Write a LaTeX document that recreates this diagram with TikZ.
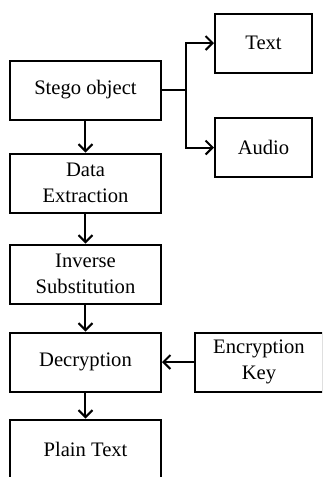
\documentclass[tikz,border=0pt]{standalone}
\usepackage{fontspec}
\setmainfont{Liberation Serif}
\usetikzlibrary{positioning}
\usetikzlibrary{arrows.meta}

\begin{document}
\begin{tikzpicture}[
            block/.style={
                draw,
                line width=1pt,
                align=center,
                font=\fontsize{10.3}{13}\selectfont,
                minimum width=75.5pt,
                minimum height=29.5pt
            },
            side/.style={
                block,
                minimum width=48.5pt
            },
            flecha/.style={-{Straight Barb[length=3.5pt,width=7pt]}, line width=1pt}
        ]

        \path[use as bounding box] (-42.75pt,45pt) rectangle (118.25pt,-193.5pt);
        \clip (-42.75pt,45pt) rectangle (118.25pt,-193.5pt);

        \node[block] (stego) at (0,0) {Stego object};

        \node[side, right = 26pt of stego, yshift=23.5pt] (texto) {Text};
        \node[side, right = 26pt of stego, yshift=-28.75pt] (audio) {Audio};

        \node[block, below = 16pt of stego] (extraccion)
            {Data\\
            Extraction};

        \node[block, below = 15pt of extraccion] (sustitucion)
            {Inverse\\
            Substitution};

        \node[block, below = 13.5pt of sustitucion] (descifrado) {Decryption};

        \node[block, minimum width=64pt, right = 16pt of descifrado] (clave)
            {Encryption\\
            Key};

        \node[block, below = 13pt of descifrado] (plano) {Plain Text};

        \coordinate[right = 12pt of stego.east] (rama);

        \draw[line width=1pt] (stego) -- (rama);
        \draw[flecha] (rama) |- (texto);
        \draw[flecha] (rama) |- (audio);
        \draw[flecha] (stego) -- (extraccion);
        \draw[flecha] (extraccion) -- (sustitucion);
        \draw[flecha] (sustitucion) -- (descifrado);
        \draw[flecha] (clave) -- (descifrado);
        \draw[flecha] (descifrado) -- (plano);

    \end{tikzpicture}
\end{document}
